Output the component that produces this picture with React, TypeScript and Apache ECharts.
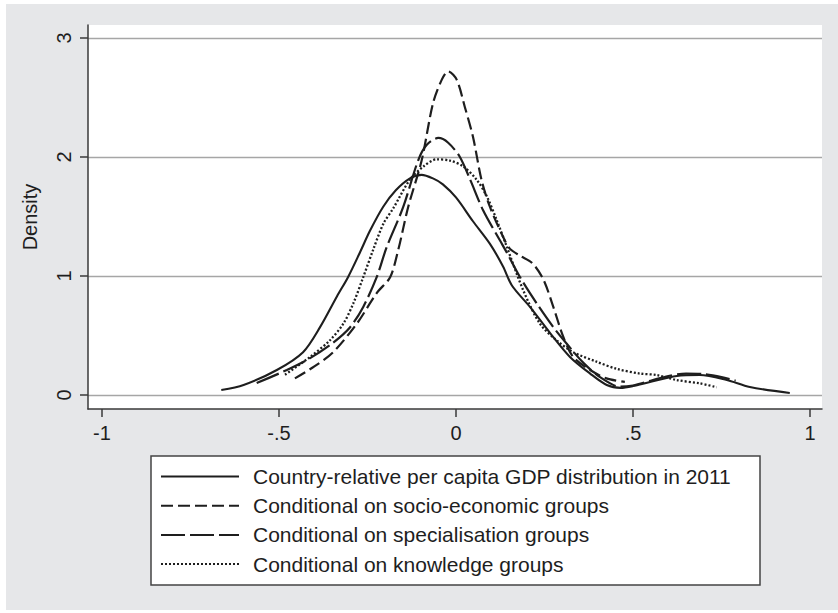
import React, { useEffect, useRef } from "react";
import * as echarts from "echarts";

// ---- data ----
const seriesNames = [
  "Country-relative per capita GDP distribution in 2011",
  "Conditional on socio-economic groups",
  "Conditional on specialisation groups",
  "Conditional on knowledge groups",
];

const gdpX = [-0.663, -0.6, -0.506, -0.432, -0.384, -0.336, -0.305, -0.271, -0.243, -0.206, -0.17, -0.13, -0.097, -0.065, -0.037, 0.0, 0.048, 0.096, 0.133, 0.158, 0.209, 0.266, 0.322, 0.379, 0.426, 0.465, 0.5, 0.548, 0.624, 0.689, 0.765, 0.83, 0.943];
const gdpY = [0.042, 0.084, 0.21, 0.36, 0.57, 0.83, 0.99, 1.2, 1.38, 1.58, 1.72, 1.82, 1.85, 1.82, 1.77, 1.66, 1.46, 1.27, 1.08, 0.92, 0.74, 0.52, 0.32, 0.18, 0.084, 0.06, 0.075, 0.11, 0.16, 0.168, 0.126, 0.067, 0.017];

const socX = [-0.455, -0.4, -0.347, -0.28, -0.223, -0.186, -0.163, -0.135, -0.097, -0.065, -0.04, -0.022, 0.002, 0.025, 0.048, 0.072, 0.096, 0.133, 0.152, 0.181, 0.215, 0.247, 0.275, 0.303, 0.331, 0.379, 0.425, 0.477];
const socY = [0.14, 0.24, 0.36, 0.6, 0.86, 0.99, 1.22, 1.58, 1.97, 2.45, 2.65, 2.72, 2.65, 2.42, 2.17, 1.81, 1.58, 1.33, 1.23, 1.17, 1.11, 0.97, 0.74, 0.49, 0.32, 0.21, 0.14, 0.11];

const speX = [-0.563, -0.478, -0.412, -0.347, -0.299, -0.262, -0.224, -0.196, -0.149, -0.107, -0.083, -0.05, -0.022, 0.011, 0.04, 0.077, 0.124, 0.143, 0.181, 0.228, 0.275, 0.313, 0.36, 0.407, 0.463, 0.5, 0.55, 0.6, 0.65, 0.7, 0.75, 0.79];
const speY = [0.1, 0.21, 0.31, 0.44, 0.57, 0.74, 0.99, 1.24, 1.58, 1.97, 2.1, 2.16, 2.12, 2.0, 1.81, 1.55, 1.3, 1.2, 0.99, 0.77, 0.57, 0.43, 0.27, 0.15, 0.07, 0.08, 0.12, 0.16, 0.18, 0.175, 0.15, 0.12];

const knoX = [-0.483, -0.412, -0.356, -0.318, -0.29, -0.262, -0.234, -0.205, -0.177, -0.13, -0.092, -0.055, -0.017, 0.021, 0.058, 0.087, 0.115, 0.143, 0.19, 0.237, 0.284, 0.331, 0.397, 0.454, 0.52, 0.567, 0.623, 0.689, 0.736];
const knoY = [0.17, 0.32, 0.46, 0.6, 0.77, 0.99, 1.22, 1.44, 1.57, 1.81, 1.92, 1.98, 1.97, 1.92, 1.81, 1.67, 1.47, 1.25, 0.88, 0.6, 0.46, 0.36, 0.28, 0.22, 0.18, 0.168, 0.126, 0.098, 0.065];

const xTicks = [-1, -0.5, 0, 0.5, 1];
const yTicks = [0, 1, 2, 3];

const FONT = "'Liberation Sans', Arial, Helvetica, sans-serif";
const INK = "#1e1e1e";

function pairs(xs: number[], ys: number[]) {
  return xs.map((x, i) => [x, ys[i]]);
}

function fmtX(v: number) {
  if (v === 0) return "0";
  const s = String(Math.abs(v)).replace(/^0\./, ".");
  return (v < 0 ? "-" : "") + s;
}

export default function App() {
  const ref = useRef<HTMLDivElement>(null);
  useEffect(() => {
    if (!ref.current) return;
    const chart = echarts.init(ref.current, undefined, { renderer: "svg" });
    const dashes: any[] = ["solid", [12, 5], [24, 5], [2, 2]];
    const widths = [2.1, 2.2, 2.2, 2.3];
    const datasets = [pairs(gdpX, gdpY), pairs(socX, socY), pairs(speX, speY), pairs(knoX, knoY)];
    chart.setOption({
      animation: false,
      backgroundColor: "transparent",
      textStyle: { fontFamily: FONT },
      grid: {
        left: 88,
        top: 25,
        right: 16,
        bottom: 204,
        show: true,
        backgroundColor: "#ffffff",
        borderWidth: 0,
        outerBoundsMode: "none",
      },
      xAxis: {
        type: "value",
        min: -1.0395,
        max: 1.034,
        axisLine: { show: true, onZero: false, lineStyle: { color: "#3a3a3a", width: 1.5 } },
        axisTick: { show: true, length: 8, inside: false, customValues: xTicks, lineStyle: { color: "#3a3a3a", width: 1.5 } },
        axisLabel: { customValues: xTicks, formatter: fmtX, fontSize: 20, color: INK, margin: 14, fontFamily: FONT },
        splitLine: { show: false },
      },
      yAxis: {
        type: "value",
        min: -0.1176,
        max: 3.109,
        name: "Density",
        nameLocation: "middle",
        nameRotate: 90,
        nameGap: 48,
        nameTextStyle: { fontSize: 20, color: INK, fontFamily: FONT },
        axisLine: { show: true, onZero: false, lineStyle: { color: "#3a3a3a", width: 1.5 } },
        axisTick: { show: true, length: 8, inside: false, customValues: yTicks, lineStyle: { color: "#3a3a3a", width: 1.5 } },
        axisLabel: { customValues: yTicks, rotate: 90, fontSize: 20, color: INK, margin: 14, fontFamily: FONT },
        splitLine: { show: true, lineStyle: { color: "#a6a6a6", width: 1.3 } },
      },
      legend: {
        orient: "vertical",
        left: 160,
        top: 466,
        padding: 0,
        itemWidth: 78,
        itemHeight: 20,
        itemGap: 8.2,
        itemStyle: { opacity: 0 },
        textStyle: { fontSize: 21, color: INK, fontFamily: FONT, lineHeight: 20, padding: [0, 0, 0, 9] },
        data: seriesNames,
      },
      graphic: [
        {
          type: "rect",
          z: 0,
          shape: { x: 151, y: 456, width: 609, height: 129 },
          style: { fill: "#ffffff", stroke: "#444444", lineWidth: 1.5 },
        },
      ],
      series: datasets.map((d, i) => ({
        type: "line",
        name: seriesNames[i],
        data: d,
        smooth: 0.3,
        showSymbol: false,
        symbol: "none",
        z: 3,
        lineStyle: { color: INK, width: widths[i], type: dashes[i], cap: "butt" },
        itemStyle: { color: INK },
      })),
    });
    return () => chart.dispose();
  }, []);
  return (
    <div style={{ position: "absolute", left: 0, top: 0, width: 838, height: 613, background: "#ffffff" }}>
      <div style={{ position: "absolute", left: 6, top: 4, width: 832, height: 606, background: "#e6e7e9" }} />
      <div ref={ref} style={{ position: "absolute", left: 0, top: 0, width: 838, height: 613 }} />
    </div>
  );
}
